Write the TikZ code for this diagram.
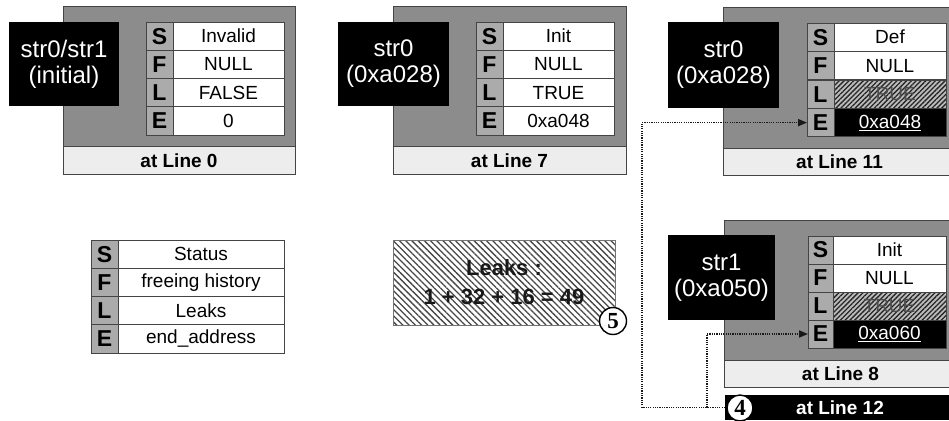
\documentclass[tikz,border=0pt]{standalone}
\usepackage{fontspec}
\setmainfont{Liberation Sans}
\newfontfamily\numfont{Liberation Serif}
\usetikzlibrary{patterns.meta,arrows.meta}
\definecolor{panelgray}{HTML}{8C8C8C}
\definecolor{lettergray}{HTML}{ABABAB}
\definecolor{footgray}{HTML}{EDEDED}
\definecolor{edgegray}{HTML}{444444}
\tikzset{
  every node/.style={inner sep=0pt, outer sep=0pt},
  panelbg/.style={fill=panelgray, draw=edgegray, line width=1pt, anchor=north west},
  footer/.style={fill=footgray, draw=edgegray, line width=0.8pt, anchor=north west,
    minimum height=27.5pt, font=\fontsize{19}{21}\selectfont\bfseries},
  lbl/.style={fill=black, text=white, align=center, anchor=north west,
    font=\fontsize{24}{26}\selectfont},
  letter/.style={fill=lettergray, draw=edgegray, line width=0.8pt, anchor=north west,
    minimum width=27pt, minimum height=28.25pt, font=\fontsize{23}{23}\selectfont\bfseries},
  val/.style={fill=white, draw=edgegray, line width=0.8pt, anchor=north west,
    minimum height=28.25pt, font=\fontsize{19}{21}\selectfont},
  hatchval/.style={val, preaction={fill=lettergray!80}, pattern={Lines[angle=45,distance=3.4pt,line width=1.3pt]},
    pattern color=black!85, text=black!70},
  blackval/.style={val, fill=black, text=white},
  leakbox/.style={draw=black!55, line width=0.8pt, anchor=north west, preaction={fill=white},
    pattern={Lines[angle=-45,distance=4.4pt,line width=1.3pt]}, pattern color=black!72,
    align=center, text=black!90, font=\fontsize{22}{29}\selectfont\bfseries},
  circnum/.style={circle, draw=black, line width=1.4pt, fill=white, minimum size=27pt,
    font=\fontsize{23}{23}\selectfont\numfont\bfseries},
  conn/.style={draw=black!90, line width=1.7pt, dash pattern=on 1.2pt off 1.1pt},
  arr/.style={-{Triangle[length=9pt,width=7pt]}}
}
\begin{document}
\begin{tikzpicture}[x=1pt,y=-1pt]
\clip (0,0) rectangle (949,420);
\fill[white] (0,0) rectangle (949,420);

% ---------- Panel 1 ----------
\node[panelbg, minimum width=232pt, minimum height=167pt] (p1) at (63,7) {};
\node[footer, minimum width=232pt] (f1) at (63,146.5) {at Line 0};
\node[lbl, minimum width=110pt, minimum height=84pt] (l1) at (9,22) {str0/str1\\(initial)};
\node[letter] (s1) at (146,22) {S};
\node[letter] (fl1) at (146,50.25) {F};
\node[letter] (ll1) at (146,78.5) {L};
\node[letter] (e1) at (146,106.75) {E};
\node[val, minimum width=111pt] (vs1) at (173,22) {Invalid};
\node[val, minimum width=111pt] (vf1) at (173,50.25) {NULL};
\node[val, minimum width=111pt] (vl1) at (173,78.5) {FALSE};
\node[val, minimum width=111pt] (ve1) at (173,106.75) {0};

% ---------- Panel 2 ----------
\node[panelbg, minimum width=233pt, minimum height=167pt] (p2) at (393,7) {};
\node[footer, minimum width=233pt] (f2) at (393,146.5) {at Line 7};
\node[lbl, minimum width=111pt, minimum height=84pt] (l2) at (338,22) {str0\\(0xa028)};
\node[letter] (s2) at (476,22) {S};
\node[letter] (fl2) at (476,50.25) {F};
\node[letter] (ll2) at (476,78.5) {L};
\node[letter] (e2) at (476,106.75) {E};
\node[val, minimum width=111pt] (vs2) at (503,22) {Init};
\node[val, minimum width=111pt] (vf2) at (503,50.25) {NULL};
\node[val, minimum width=111pt] (vl2) at (503,78.5) {TRUE};
\node[val, minimum width=111pt] (ve2) at (503,106.75) {0xa048};

% ---------- Panel 3 ----------
\node[panelbg, minimum width=233pt, minimum height=167pt] (p3) at (723,8) {};
\node[footer, minimum width=233pt] (f3) at (723,148) {at Line 11};
\node[lbl, minimum width=111pt, minimum height=86pt] (l3) at (668,22) {str0\\(0xa028)};
\node[letter] (s3) at (807,23) {S};
\node[letter] (fl3) at (807,51.5) {F};
\node[letter] (ll3) at (807,80) {L};
\node[letter] (e3) at (807,108.5) {E};
\node[val, minimum width=112pt] (vs3) at (834,23) {Def};
\node[val, minimum width=112pt] (vf3) at (834,51.5) {NULL};
\node[hatchval, minimum width=112pt] (vl3) at (834,80) {TRUE};
\node[blackval, minimum width=112pt] (ve3) at (834,108.5) {\underline{0xa048}};

% ---------- Panel 4 ----------
\node[panelbg, minimum width=233pt, minimum height=167pt] (p4) at (724,220) {};
\node[footer, minimum width=233pt] (f4) at (724,360) {at Line 8};
\node[lbl, minimum width=107pt, minimum height=85pt] (l4) at (668,235) {str1\\(0xa050)};
\node[letter, minimum width=25pt, minimum height=28pt] (s4) at (808,236) {S};
\node[letter, minimum width=25pt, minimum height=28pt] (fl4) at (808,264) {F};
\node[letter, minimum width=25pt, minimum height=28pt] (ll4) at (808,292) {L};
\node[letter, minimum width=25pt, minimum height=28pt] (e4) at (808,320) {E};
\node[val, minimum width=113pt, minimum height=28pt] (vs4) at (833,236) {Init};
\node[val, minimum width=113pt, minimum height=28pt] (vf4) at (833,264) {NULL};
\node[hatchval, minimum width=113pt, minimum height=28pt] (vl4) at (833,292) {TRUE};
\node[blackval, minimum width=113pt, minimum height=28pt] (ve4) at (833,320) {\underline{0xa060}};

% ---------- Bar at Line 12 ----------
\node[fill=black, text=white, anchor=north west, minimum width=230pt, minimum height=25pt,
  font=\fontsize{19}{21}\selectfont\bfseries] (bar) at (725,395) {at Line 12};
\node[circnum, minimum size=26pt] (c4) at (740,408) {4};

% ---------- Legend ----------
\node[letter] (ls) at (91,240) {S};
\node[letter] (lf) at (91,268.25) {F};
\node[letter] (ll) at (91,296.5) {L};
\node[letter] (le) at (91,324.75) {E};
\node[val, minimum width=166pt] (lvs) at (118,240) {Status};
\node[val, minimum width=166pt] (lvf) at (118,268.25) {freeing history};
\node[val, minimum width=166pt] (lvl) at (118,296.5) {Leaks};
\node[val, minimum width=166pt] (lve) at (118,324.75) {end\_address};

% ---------- Leaks box ----------
\node[leakbox, minimum width=222pt, minimum height=85pt] (leaks) at (393,240) {Leaks :\\1 + 32 + 16 = 49};
\node[circnum] (c5) at (613,321) {5};

% ---------- Connectors ----------
\coordinate (xA) at (642,0);
\coordinate (xB) at (707,0);
\draw[conn, arr] (bar.west) -| (xA |- e3.west) -- (e3.west);
\draw[conn, arr] (bar.west -| xB) |- (e4.west);
\end{tikzpicture}
\end{document}
